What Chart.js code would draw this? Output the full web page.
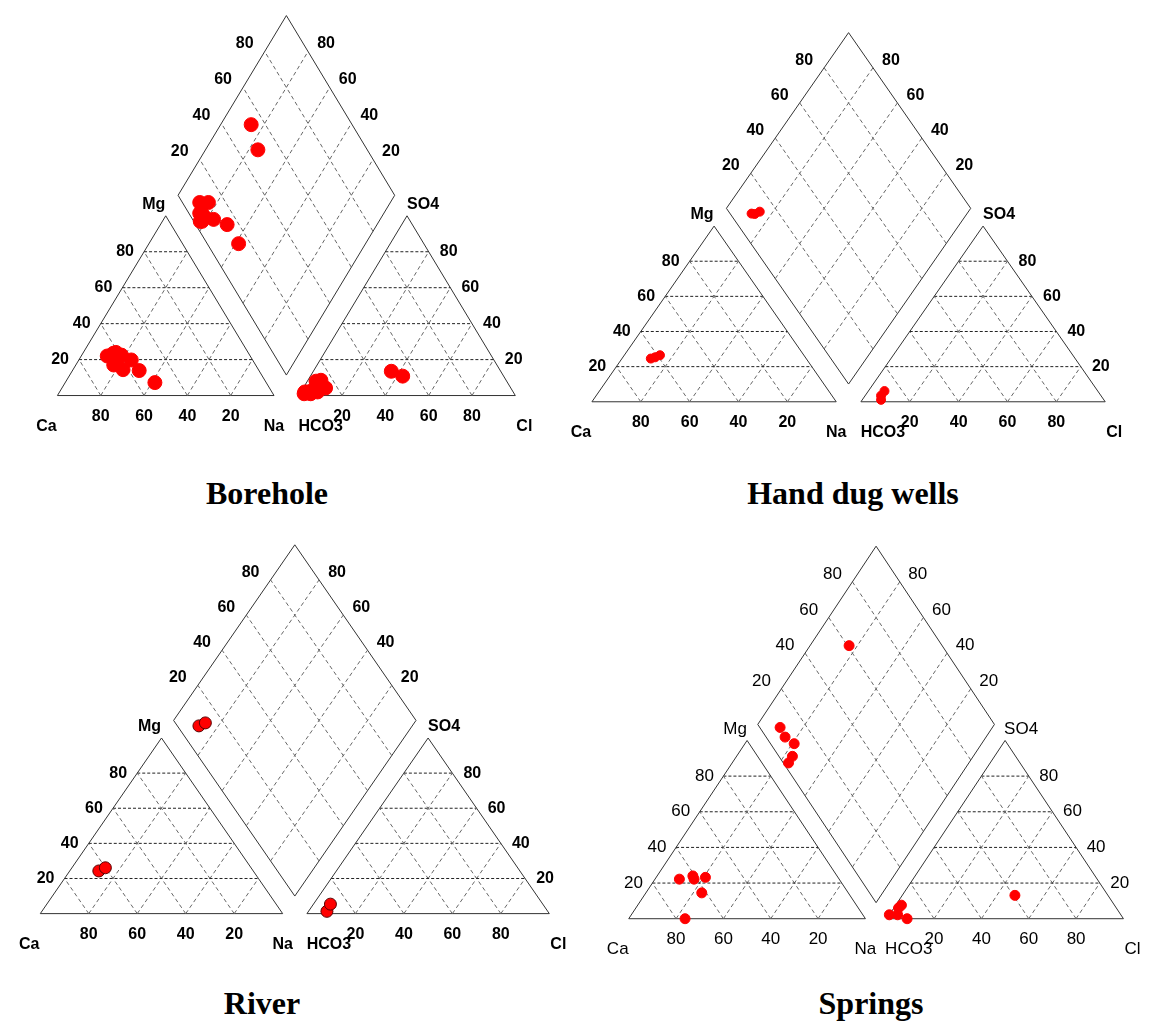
<!DOCTYPE html>
<html>
<head>
<meta charset="utf-8">
<title>Piper diagrams</title>
<script src="https://cdn.jsdelivr.net/npm/chart.js@4.4.1/dist/chart.umd.min.js"></script>
<style>
  body { margin: 0; background: #fff; width: 1151px; height: 1023px; position: relative; overflow: hidden; }
  canvas { position: absolute; }
  .title {
    position: absolute;
    font-family: 'Liberation Serif', 'Times New Roman', serif;
    font-weight: bold;
    font-size: 32px;
    line-height: 1;
    transform: translate(-50%, -50%);
    white-space: nowrap;
    color: #000;
  }
</style>
</head>
<body>
<div id="stage"></div>
<script>
// Tick labels on every axis
const tickValues = [20, 40, 60, 80];
const panelTitles = ['Borehole', 'Hand dug wells', 'River', 'Springs'];

// Borehole samples (% meq)
const boreholeCa   = [62.4, 56.0, 55.3, 51.4, 59.2, 63.6, 62.5, 66.0, 63.0, 64.0, 61.0, 65.5];
const boreholeMg   = [23.5, 19.8, 13.9,  7.2, 22.5, 18.0, 14.4, 22.0, 21.0, 20.0, 24.0, 17.0];
const boreholeNa   = [14.1, 24.2, 30.8, 41.4, 18.3, 18.4, 23.1, 12.0, 16.0, 16.0, 15.0, 17.5];
const boreholeHCO3 = [46.6, 50.5, 85.5, 85.5, 96.2, 93.7, 90.3, 92.0, 88.0, 94.0, 95.0, 97.0];
const boreholeSO4  = [10.8, 13.5,  8.5,  4.2,  2.0,  1.5,  2.0,  3.0,  8.0,  1.0,  2.0,  1.0];
const boreholeCl   = [42.6, 36.0,  6.0, 10.3,  1.8,  4.8,  7.7,  5.0,  4.0,  5.0,  3.0,  2.0];

// Hand dug wells
const wellCa   = [63.6, 61.5, 58.9];
const wellMg   = [24.6, 25.3, 26.5];
const wellNa   = [11.8, 13.2, 14.6];
const wellHCO3 = [91.2, 90.0, 87.3];
const wellSO4  = [ 1.1,  3.5,  6.1];
const wellCl   = [ 7.7,  6.5,  6.6];

// River
const riverCa   = [63.7, 60.1];
const riverMg   = [24.3, 26.1];
const riverNa   = [12.0, 13.8];
const riverHCO3 = [91.1, 87.6];
const riverSO4  = [ 1.3,  5.4];
const riverCl   = [ 7.6,  7.0];

// Springs
const springCa   = [61.3, 67.5, 60.9, 56.0, 61.9, 76.2];
const springMg   = [22.2, 22.2, 24.0, 23.2, 14.5,  0.0];
const springNa   = [16.5, 10.3, 15.1, 20.8, 23.6, 23.8];
const springHCO3 = [39.3, 91.4, 92.0, 90.0, 94.3, 97.8];
const springSO4  = [13.1,  0.0,  6.0,  7.6,  2.2,  2.2];
const springCl   = [47.6,  8.6,  2.0,  2.4,  3.5,  0.0];

const H = Math.sqrt(3) / 2;

// layout of each panel on the page
const panels = [
  { title: panelTitles[0], ca: boreholeCa, mg: boreholeMg, na: boreholeNa, hco3: boreholeHCO3, so4: boreholeSO4, cl: boreholeCl,
    ox: 50.7, oy: 401.7, sx: 223, sy: 215, gap: 0.114, radius: 7, border: '#ff0000', bold: true, tx: 267, ty: 493 },
  { title: panelTitles[1], ca: wellCa, mg: wellMg, na: wellNa, hco3: wellHCO3, so4: wellSO4, cl: wellCl,
    ox: 587.3, oy: 406, sx: 248.7, sy: 208, gap: 0.101, radius: 4.5, border: '#ff0000', bold: true, tx: 853, ty: 493 },
  { title: panelTitles[2], ca: riverCa, mg: riverMg, na: riverNa, hco3: riverHCO3, so4: riverSO4, cl: riverCl,
    ox: 34.4, oy: 919, sx: 248, sy: 209.3, gap: 0.1, radius: 6, border: '#5a0000', bold: true, tx: 262, ty: 1003 },
  { title: panelTitles[3], ca: springCa, mg: springMg, na: springNa, hco3: springHCO3, so4: springSO4, cl: springCl,
    ox: 623.7, oy: 923.3, sx: 241.5, sy: 211.4, gap: 0.09, radius: 5, border: '#ff0000', bold: false, tx: 871, ty: 1003 }
];

// ternary -> cartesian helpers
function cationXY(ca, mg, na) {
  const s = ca + mg + na, m = mg / s, n = na / s;
  return { x: n + 0.5 * m, y: m * H };
}
function anionXY(g, hco3, so4, cl) {
  const s = hco3 + so4 + cl, q = so4 / s, c = cl / s;
  return { x: 1 + g + c + 0.5 * q, y: q * H };
}
function diamondXY(g, a, b) {
  return { x: 1 + g / 2 + 0.5 * (b - a), y: H * g + H * (a + b) };
}

function lineSet(pts, color, dash) {
  return {
    data: pts, showLine: true, pointRadius: 0, borderColor: color,
    borderWidth: 1, borderDash: dash || [], fill: false, order: 2
  };
}

function makeLabels(items, font) {
  return {
    id: 'piperLabels',
    afterDatasetsDraw(chart) {
      const ctx = chart.ctx, xs = chart.scales.x, ys = chart.scales.y;
      ctx.save();
      ctx.fillStyle = '#000';
      ctx.font = font;
      ctx.textAlign = 'center';
      ctx.textBaseline = 'middle';
      items.forEach(it => {
        ctx.fillText(it.text, xs.getPixelForValue(it.x) + it.dx, ys.getPixelForValue(it.y) + it.dy);
      });
      ctx.restore();
    }
  };
}

function buildPanel(p) {
  const g = p.gap;
  const datasets = [];

  // sample points
  const pts = [];
  p.ca.forEach((ca, i) => {
    const c = cationXY(ca, p.mg[i], p.na[i]);
    const an = anionXY(g, p.hco3[i], p.so4[i], p.cl[i]);
    const a = (ca + p.mg[i]) / (ca + p.mg[i] + p.na[i]);
    const b = (p.so4[i] + p.cl[i]) / (p.hco3[i] + p.so4[i] + p.cl[i]);
    pts.push(c, an, diamondXY(g, a, b));
  });
  datasets.push({
    data: pts, pointRadius: p.radius, pointBackgroundColor: '#ff0000',
    pointBorderColor: p.border, pointBorderWidth: 1, showLine: false, order: 0
  });

  // grids
  tickValues.forEach(v => {
    const t = v / 100;
    // cation triangle
    datasets.push(lineSet([{ x: 0.5 * t, y: t * H }, { x: 1 - 0.5 * t, y: t * H }], '#222', [3, 2]));
    datasets.push(lineSet([{ x: t, y: 0 }, { x: t + 0.5 * (1 - t), y: (1 - t) * H }], '#666', [4, 3]));
    datasets.push(lineSet([{ x: 1 - t, y: 0 }, { x: 0.5 * (1 - t), y: (1 - t) * H }], '#666', [4, 3]));
    // anion triangle
    const o = 1 + g;
    datasets.push(lineSet([{ x: o + 0.5 * t, y: t * H }, { x: o + 1 - 0.5 * t, y: t * H }], '#222', [3, 2]));
    datasets.push(lineSet([{ x: o + t, y: 0 }, { x: o + t + 0.5 * (1 - t), y: (1 - t) * H }], '#666', [4, 3]));
    datasets.push(lineSet([{ x: o + 1 - t, y: 0 }, { x: o + 0.5 * (1 - t), y: (1 - t) * H }], '#666', [4, 3]));
    // diamond
    datasets.push(lineSet([diamondXY(g, t, 0), diamondXY(g, t, 1)], '#666', [4, 3]));
    datasets.push(lineSet([diamondXY(g, 0, t), diamondXY(g, 1, t)], '#666', [4, 3]));
  });

  // outlines
  datasets.push(lineSet([{ x: 0, y: 0 }, { x: 1, y: 0 }, { x: 0.5, y: H }, { x: 0, y: 0 }], '#333'));
  datasets.push(lineSet([{ x: 1 + g, y: 0 }, { x: 2 + g, y: 0 }, { x: 1.5 + g, y: H }, { x: 1 + g, y: 0 }], '#333'));
  datasets.push(lineSet([diamondXY(g, 0, 0), diamondXY(g, 1, 0), diamondXY(g, 1, 1), diamondXY(g, 0, 1), diamondXY(g, 0, 0)], '#333'));

  // labels
  const items = [];
  tickValues.forEach(v => {
    const t = v / 100, s = String(v);
    items.push({ text: s, x: 1 - t, y: 0, dx: 0, dy: 21 });
    items.push({ text: s, x: 1 + g + t, y: 0, dx: 0, dy: 21 });
    items.push({ text: s, x: 0.5 * t, y: t * H, dx: -19, dy: 0 });
    items.push({ text: s, x: 2 + g - 0.5 * t, y: t * H, dx: 20, dy: 0 });
    const l = diamondXY(g, 1, t), r = diamondXY(g, t, 1);
    items.push({ text: s, x: l.x, y: l.y, dx: -20, dy: -7.5 });
    items.push({ text: s, x: r.x, y: r.y, dx: 18, dy: -7.5 });
  });
  items.push({ text: 'Ca', x: 0, y: 0, dx: -11, dy: 31 });
  items.push({ text: 'Na', x: 1, y: 0, dx: 0, dy: 31 });
  items.push({ text: 'HCO3', x: 1 + g, y: 0, dx: 22, dy: 31 });
  items.push({ text: 'Cl', x: 2 + g, y: 0, dx: 9, dy: 31 });
  items.push({ text: 'Mg', x: 0.5, y: H, dx: -12, dy: -11 });
  items.push({ text: 'SO4', x: 1.5 + g, y: H, dx: 16, dy: -11 });

  // canvas placement so one unit = sx / sy pixels
  const left = Math.round(p.ox - 0.2 * p.sx);
  const top = Math.round(p.oy - 1.9 * p.sy);
  const width = Math.round(2.5 * p.sx);
  const height = Math.round(2.15 * p.sy);
  const xmin = (left - p.ox) / p.sx, xmax = xmin + width / p.sx;
  const ymax = (p.oy - top) / p.sy, ymin = ymax - height / p.sy;

  const canvas = document.createElement('canvas');
  canvas.width = width;
  canvas.height = height;
  canvas.style.left = left + 'px';
  canvas.style.top = top + 'px';
  canvas.style.width = width + 'px';
  canvas.style.height = height + 'px';
  document.getElementById('stage').appendChild(canvas);

  const font = (p.bold ? 'bold 16px' : '17px') + " 'Liberation Sans', Arial, sans-serif";

  new Chart(canvas.getContext('2d'), {
    type: 'scatter',
    data: { datasets },
    options: {
      responsive: false,
      devicePixelRatio: 1,
      animation: false,
      events: [],
      layout: { padding: 0 },
      plugins: { legend: { display: false }, tooltip: { enabled: false } },
      scales: {
        x: { type: 'linear', min: xmin, max: xmax, display: false },
        y: { type: 'linear', min: ymin, max: ymax, display: false }
      }
    },
    plugins: [makeLabels(items, font)]
  });

  const t = document.createElement('div');
  t.className = 'title';
  t.textContent = p.title;
  t.style.left = p.tx + 'px';
  t.style.top = p.ty + 'px';
  document.getElementById('stage').appendChild(t);
}

panels.forEach(buildPanel);
</script>
</body>
</html>
